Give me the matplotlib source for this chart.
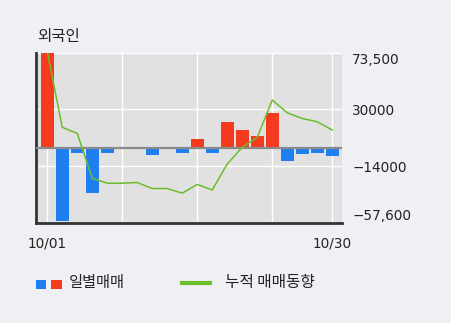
import matplotlib
matplotlib.use("Agg")
import matplotlib.pyplot as plt
from matplotlib.patches import Rectangle
from matplotlib.lines import Line2D

plt.rcParams['font.family'] = ['Noto Sans CJK KR', 'DejaVu Sans']

days = list(range(20))
daily = [85000, -56400, -3800, -34100, -3800, 0, 1200, -4900, 0, -3400,
         7400, -3400, 20200, 14100, 9500, 27400, -9500, -4100, -3400, -5700]
cumulative = [74500, 16200, 11500, -23100, -26900, -26900, -26400, -31000, -31000, -34600,
              -27900, -32100, -12100, 800, 8400, 37200, 27400, 23000, 20500, 14100]
ytick_vals = [73500, 30000, -14000, -57600]
ytick_labels = ['73,500', '30000', '\u221214000', '\u221257,600']
xtick_pos = [0, 19]
xtick_labels = ['10/01', '10/30']
vgrid = [0, 5, 10, 15, 19]

W, H = 451, 323
fig = plt.figure(figsize=(W / 100, H / 100), dpi=100)
fig.patch.set_facecolor('#eef0f3')
ax = fig.add_axes([35.7 / W, 1 - 223 / H, (341.7 - 35.7) / W, (223 - 53) / H])
ax.set_facecolor('#e1e1e1')

red = '#f53b1f'
blue = '#1f7ff0'
green = '#6dbd2a'
colors = [red if v > 0 else blue for v in daily]
ax.bar(days, daily, width=0.87, color=colors, zorder=2)
ax.axhline(0, color='#8a8a8a', lw=1.6, zorder=3)
ax.plot(days, cumulative, color=green, lw=1.1, zorder=4)

for g in vgrid:
    ax.axvline(g, color='white', lw=1.0, zorder=1)
for v in ytick_vals[:3]:
    ax.axhline(v, color='white', lw=1.0, zorder=1)

ax.set_xlim(-0.77, 19.63)
ax.set_ylim(-57600, 73500)

ax.yaxis.tick_right()
ax.set_yticks(ytick_vals)
ax.set_yticklabels(ytick_labels, family='DejaVu Sans', fontsize=9.8, color='#222222')
ax.tick_params(axis='y', length=0, pad=7.5)
tl = ax.get_yticklabels()
tl[0].set_va('top')
tl[-1].set_va('bottom')

ax.set_xticks(xtick_pos)
ax.set_xticklabels(xtick_labels, family='DejaVu Sans', fontsize=9.8, color='#222222')
ax.tick_params(axis='x', length=0, pad=10)

for s in ['top', 'right']:
    ax.spines[s].set_visible(False)
for s in ['left', 'bottom']:
    ax.spines[s].set_color('#333333')
    ax.spines[s].set_linewidth(2)

fig.text(37 / W, 1 - 37 / H, '외국인', fontsize=11.2, va='center', ha='left', color='#222222')

# legend
fig.add_artist(Rectangle((36 / W, 1 - 288.5 / H), 10 / W, 9 / H, transform=fig.transFigure,
                         color=blue, lw=0))
fig.add_artist(Rectangle((51 / W, 1 - 288.5 / H), 11 / W, 9 / H, transform=fig.transFigure,
                         color=red, lw=0))
fig.text(69 / W, 1 - 283 / H, '일별매매', fontsize=11, va='center', ha='left', color='#222222')
fig.add_artist(Line2D([180 / W, 212 / W], [1 - 283.3 / H, 1 - 283.3 / H], transform=fig.transFigure,
                      color=green, lw=3, solid_capstyle='butt'))
fig.text(225 / W, 1 - 283 / H, '누적 매매동향', fontsize=11.3, va='center', ha='left', color='#222222')

fig.savefig('out.png', dpi=100, facecolor=fig.get_facecolor())
